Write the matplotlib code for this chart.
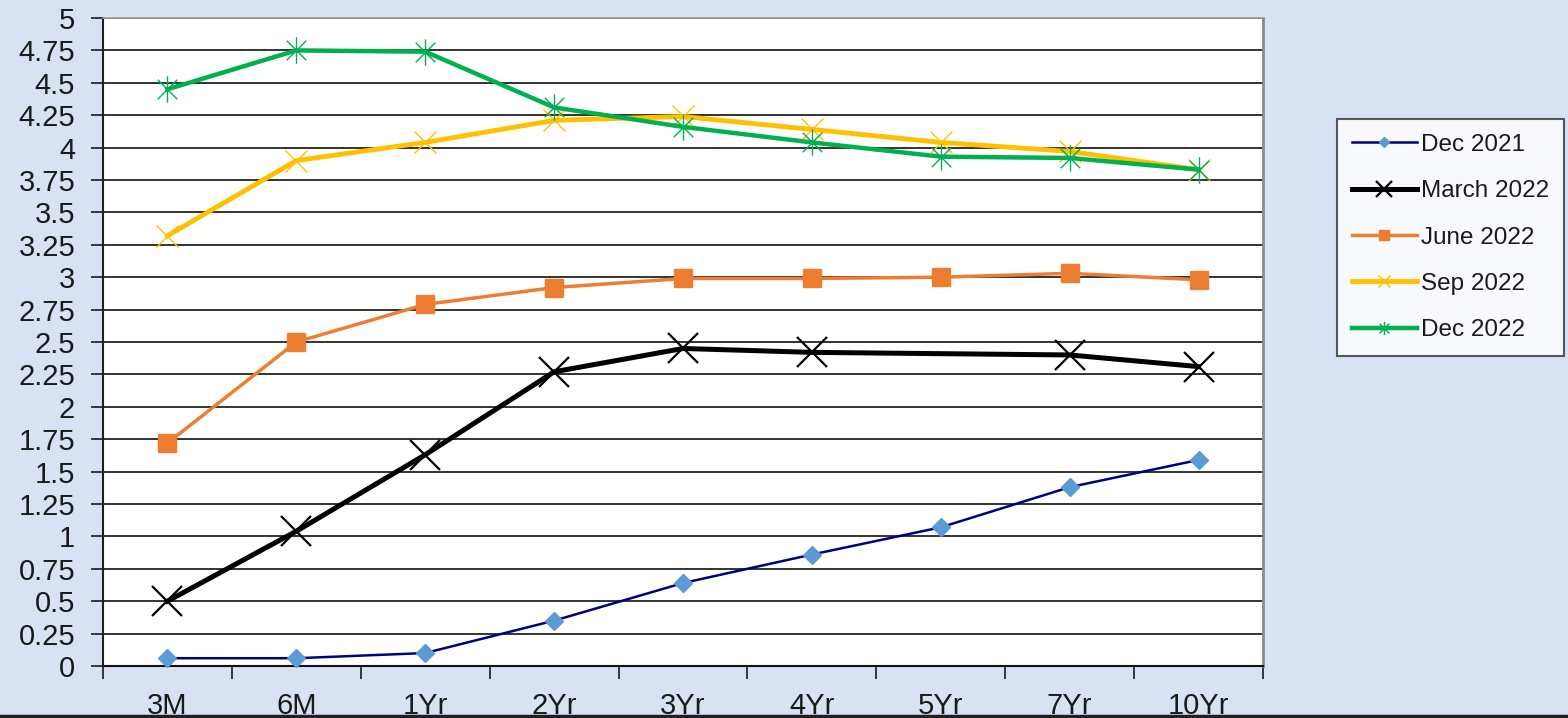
import matplotlib
matplotlib.use("Agg")
import matplotlib.pyplot as plt
from matplotlib.path import Path
from matplotlib.lines import Line2D
from matplotlib.ticker import MultipleLocator, FixedLocator

plt.rcParams["font.family"] = ["Liberation Sans", "DejaVu Sans"]

# treasury yields by maturity
maturities = ["3M", "6M", "1Yr", "2Yr", "3Yr", "4Yr", "5Yr", "7Yr", "10Yr"]
dec_2021 = [0.06, 0.06, 0.10, 0.35, 0.64, 0.86, 1.07, 1.38, 1.59]
march_2022 = [0.50, 1.04, 1.63, 2.27, 2.45, 2.42, None, 2.40, 2.31]
june_2022 = [1.72, 2.50, 2.79, 2.92, 2.99, 2.99, 3.00, 3.03, 2.98]
sep_2022 = [3.32, 3.90, 4.04, 4.21, 4.24, 4.14, 4.04, 3.97, 3.83]
dec_2022 = [4.45, 4.75, 4.74, 4.31, 4.16, 4.04, 3.93, 3.92, 3.83]

BG = "#D9E2F3"

# Excel-style asterisk marker: x plus vertical bar
star = Path([(-1, -1), (1, 1), (-1, 1), (1, -1), (0, -1.35), (0, 1.35)],
            [Path.MOVETO, Path.LINETO, Path.MOVETO, Path.LINETO,
             Path.MOVETO, Path.LINETO])

series = [
    ("Dec 2021", dec_2021, dict(color="#000080", lw=1.8, marker="D", ms=9.5,
                                mfc="#5B9BD5", mec="#5B9BD5")),
    ("March 2022", march_2022, dict(color="black", lw=3.6, marker="x", ms=22,
                                    mew=1.6, mec="black")),
    ("June 2022", june_2022, dict(color="#ED7D31", lw=2.5, marker="s", ms=13.5,
                                  mfc="#ED7D31", mec="#ED7D31")),
    ("Sep 2022", sep_2022, dict(color="#FFC000", lw=3.5, marker="x", ms=16,
                                mew=1.0, mec="#FFC000")),
    ("Dec 2022", dec_2022, dict(color="#00B050", lw=3.2, marker=star, ms=19,
                                mew=1.0, mec="#00B050", mfc="none")),
]

fig = plt.figure(figsize=(15.68, 7.18), dpi=100, facecolor=BG)
ax = fig.add_axes([103 / 1568, 1 - 666 / 718, 1160 / 1568, 648 / 718])
ax.set_facecolor("white")

for name, vals, style in series:
    xs = [i for i, v in enumerate(vals) if v is not None]
    ys = [v for v in vals if v is not None]
    ax.plot(xs, ys, label=name, clip_on=False, zorder=3, **style)

ax.set_xlim(-0.5, len(maturities) - 0.5)
ax.set_ylim(0, 5)

# y axis
ax.yaxis.set_major_locator(MultipleLocator(0.25))
ax.set_yticklabels([f"{t:g}" for t in ax.get_yticks()])
ax.tick_params(axis="y", which="major", length=9, width=1.2, pad=11,
               labelsize=21, colors="#1a1a1a")
ax.set_axisbelow(True)
ax.yaxis.grid(True, color="#333333", lw=1.4)
ax.get_ygridlines()[-1].set_visible(False)

# x axis: labels at centres, tick marks on category boundaries
ax.set_xticks(range(len(maturities)))
ax.set_xticklabels(maturities)
ax.xaxis.set_minor_locator(FixedLocator([i - 0.5 for i in range(len(maturities) + 1)]))
ax.tick_params(axis="x", which="major", length=0, pad=19, labelsize=21,
               colors="#1a1a1a")
ax.tick_params(axis="x", which="minor", length=9, width=1.2, color="#1a1a1a")

ax.spines["left"].set_color("#202020")
ax.spines["left"].set_linewidth(1.5)
ax.spines["bottom"].set_color("#101010")
ax.spines["bottom"].set_linewidth(1.5)
ax.spines["top"].set_color("#a0a0a0")
ax.spines["top"].set_linewidth(1.2)
ax.spines["right"].set_color("#8a8a8a")
ax.spines["right"].set_linewidth(2.0)

leg = fig.legend(loc="center left", bbox_to_anchor=(1337 / 1568, 1 - 237.5 / 718),
                 fontsize=17.5, frameon=True, fancybox=False, borderaxespad=0,
                 handlelength=2.7, handletextpad=0.15, labelspacing=1.0,
                 borderpad=0.6, markerscale=0.5)
leg.get_frame().set_edgecolor("#303030")
leg.get_frame().set_linewidth(1.5)
for t in leg.get_texts():
    t.set_color("#1a1a1a")

# dark rule along the bottom edge of the slide
fig.add_artist(Line2D([0, 1], [0.003, 0.003], transform=fig.transFigure,
                      color="#202020", lw=2.5))

fig.savefig("out.png", dpi=100, facecolor=BG)
